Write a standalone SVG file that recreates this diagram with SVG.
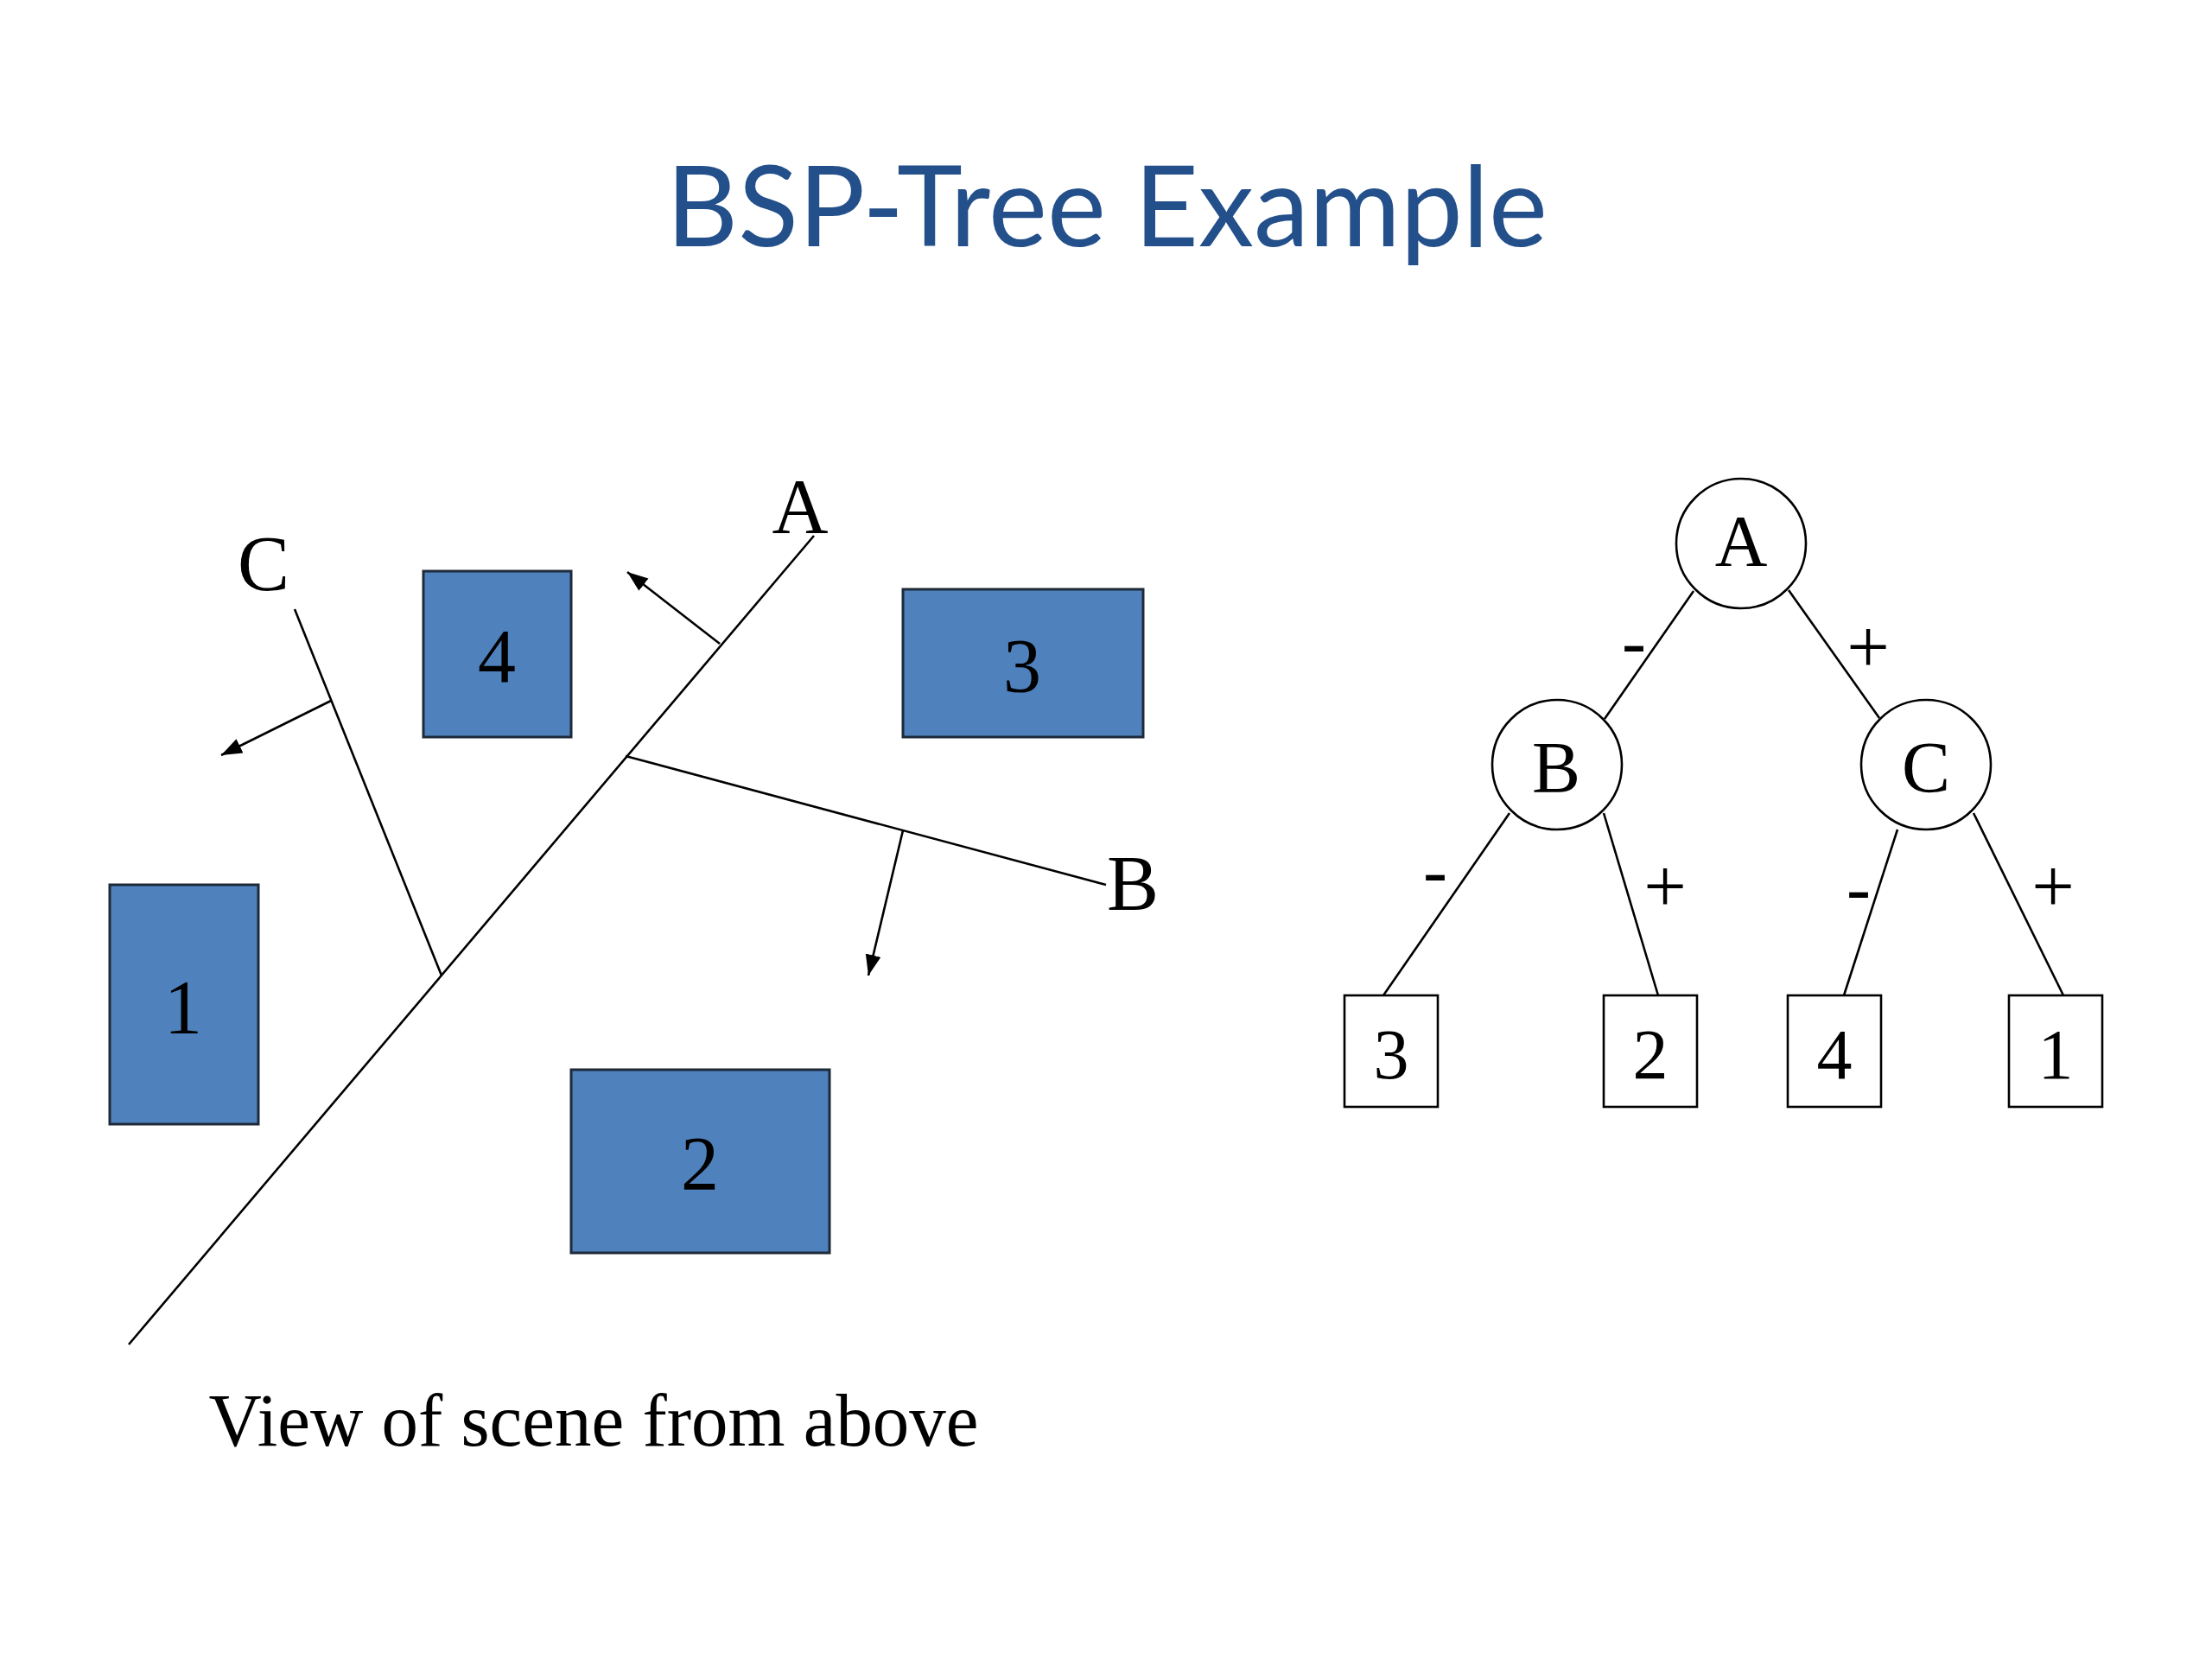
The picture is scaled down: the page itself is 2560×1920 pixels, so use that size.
<svg xmlns="http://www.w3.org/2000/svg" width="2560" height="1920" viewBox="0 0 2560 1920">
<style>
.t{font-family:"Liberation Serif","Times New Roman",serif;fill:#000;text-anchor:middle}
.ln{stroke:#000;stroke-width:2.6;fill:none}
.box{fill:#4F81BD;stroke:#1e2a3a;stroke-width:3}
.leaf{fill:#fff;stroke:#000;stroke-width:2.6}
.nd{fill:#fff;stroke:#000;stroke-width:2.6}
</style>
<defs>
<marker id="ah" markerUnits="userSpaceOnUse" markerWidth="26" markerHeight="20" refX="24" refY="9" orient="auto">
<path d="M0,0 L24,9 L0,18 z" fill="#000"/>
</marker>
</defs>
<rect width="2560" height="1920" fill="#fff"/>
<text x="1281" y="285" font-family="Lato,'Open Sans',sans-serif" font-size="130" fill="#23508A" text-anchor="middle" textLength="1020" lengthAdjust="spacingAndGlyphs">BSP-Tree Example</text>

<g id="scene">
<g id="rect4"><rect class="box" x="490" y="661" width="171" height="192"/><text class="t" x="575" y="789" font-size="88">4</text></g>
<g id="rect3"><rect class="box" x="1045" y="682" width="278" height="171"/><text class="t" x="1183" y="800" font-size="88">3</text></g>
<g id="rect1"><rect class="box" x="127" y="1024" width="172" height="277"/><text class="t" x="212" y="1195" font-size="88">1</text></g>
<g id="rect2"><rect class="box" x="661" y="1238" width="299" height="212"/><text class="t" x="810" y="1376" font-size="88">2</text></g>
<g id="planes">
<line class="ln" x1="942" y1="620" x2="149" y2="1556"/>
<line class="ln" x1="724" y1="875" x2="1280" y2="1024"/>
<line class="ln" x1="341" y1="705" x2="511" y2="1129"/>
<line class="ln" x1="833" y1="745" x2="726" y2="662" marker-end="url(#ah)"/>
<line class="ln" x1="383" y1="811" x2="256" y2="874" marker-end="url(#ah)"/>
<line class="ln" x1="1045" y1="961" x2="1005" y2="1129" marker-end="url(#ah)"/>
</g>
<text class="t" x="926" y="617" font-size="90">A</text>
<text class="t" x="305" y="683" font-size="90">C</text>
<text class="t" x="1311" y="1053" font-size="90">B</text>
<text class="t" x="687" y="1673" font-size="86" textLength="891" lengthAdjust="spacingAndGlyphs">View of scene from above</text>
</g>

<g id="edges">
<line class="ln" x1="1960" y1="684" x2="1857" y2="832"/>
<line class="ln" x1="2070" y1="683" x2="2175" y2="831"/>
<line class="ln" x1="1747" y1="941" x2="1601" y2="1152"/>
<line class="ln" x1="1856" y1="941" x2="1919" y2="1152"/>
<line class="ln" x1="2196" y1="960" x2="2134" y2="1152"/>
<line class="ln" x1="2284" y1="941" x2="2388" y2="1152"/>
<text class="t" x="1891" y="771" font-size="84">-</text>
<text class="t" x="2162" y="778" font-size="88">+</text>
<text class="t" x="1661" y="1036" font-size="84">-</text>
<text class="t" x="1927" y="1055" font-size="88">+</text>
<text class="t" x="2151" y="1056" font-size="84">-</text>
<text class="t" x="2376" y="1055" font-size="88">+</text>
</g>

<g id="nodeA"><circle class="nd" cx="2015" cy="629" r="75"/><text class="t" x="2015" y="655" font-size="84">A</text></g>
<g id="nodeB"><circle class="nd" cx="1802" cy="885" r="75"/><text class="t" x="1801" y="917" font-size="84">B</text></g>
<g id="nodeC"><circle class="nd" cx="2229" cy="885" r="75"/><text class="t" x="2229" y="917" font-size="84">C</text></g>
<g id="leaf3"><rect class="leaf" x="1556" y="1152" width="108" height="129"/><text class="t" x="1610" y="1248" font-size="82">3</text></g>
<g id="leaf2"><rect class="leaf" x="1856" y="1152" width="108" height="129"/><text class="t" x="1910" y="1248" font-size="82">2</text></g>
<g id="leaf4"><rect class="leaf" x="2069" y="1152" width="108" height="129"/><text class="t" x="2123" y="1248" font-size="82">4</text></g>
<g id="leaf1"><rect class="leaf" x="2325" y="1152" width="108" height="129"/><text class="t" x="2379" y="1248" font-size="82">1</text></g>
</svg>
